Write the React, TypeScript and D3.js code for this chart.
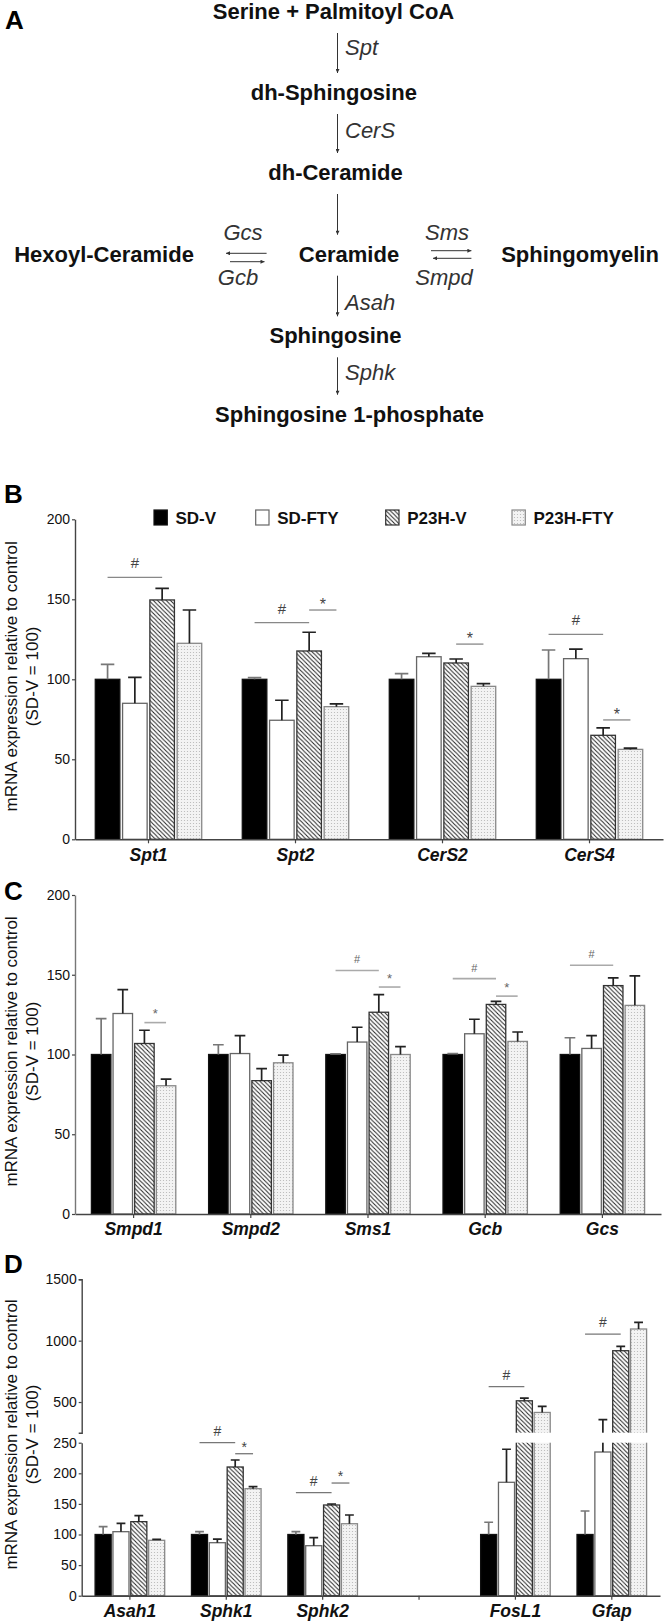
import React, { useRef, useEffect } from "react";
import * as d3 from "d3";

const groups = ["SD-V", "SD-FTY", "P23H-V", "P23H-FTY"];

// panel B: de novo synthesis
const genesB = ["Spt1", "Spt2", "CerS2", "CerS4"];
const meanB = [
  [100, 85, 149.6, 122.5],
  [100, 74.4, 117.7, 82.9],
  [100, 114.1, 110.2, 95.6],
  [100, 112.9, 65, 56.2],
];
const errB = [
  [9.3, 16.2, 7.2, 20.8],
  [1, 12.5, 11.7, 1.7],
  [3.5, 2.1, 2.5, 1.7],
  [18.3, 6, 4.6, 0.8],
];
const sigB = [
  { gene: "Spt1", from: 0, to: 2, mark: "#", at: 163.7 },
  { gene: "Spt2", from: 0, to: 2, mark: "#", at: 135.4 },
  { gene: "Spt2", from: 2, to: 3, mark: "*", at: 143.3 },
  { gene: "CerS2", from: 2, to: 3, mark: "*", at: 122 },
  { gene: "CerS4", from: 0, to: 2, mark: "#", at: 128.1 },
  { gene: "CerS4", from: 2, to: 3, mark: "*", at: 74.6 },
];
const ticksB = [0, 50, 100, 150, 200];

// panel C: sphingomyelin / glucosylceramide
const genesC = ["Smpd1", "Smpd2", "Sms1", "Gcb", "Gcs"];
const meanC = [
  [100, 125.7, 106.9, 80.4],
  [100, 100.6, 83.6, 94.8],
  [100, 107.8, 126.5, 100],
  [100, 113, 131.4, 108.2],
  [100, 103.8, 143.2, 130.8],
];
const errC = [
  [22.5, 15, 8.3, 4.1],
  [6.1, 11.2, 7.6, 4.8],
  [0.4, 9.3, 11, 4.9],
  [0.6, 9.1, 1.9, 5.9],
  [10.5, 8, 4.8, 18.5],
];
const sigC = [
  { gene: "Smpd1", from: 2, to: 3, mark: "*", at: 120 },
  { gene: "Sms1", from: 0, to: 2, mark: "#", at: 152.7 },
  { gene: "Sms1", from: 2, to: 3, mark: "*", at: 142.3 },
  { gene: "Gcb", from: 0, to: 2, mark: "#", at: 147.6 },
  { gene: "Gcb", from: 2, to: 3, mark: "*", at: 136.6 },
  { gene: "Gcs", from: 0, to: 2, mark: "#", at: 156 },
];
const ticksC = [0, 50, 100, 150, 200];

// panel D: catabolism + markers (broken axis), " " is the empty slot
const genesD = ["Asah1", "Sphk1", "Sphk2", " ", "FosL1", "Gfap"];
const meanD = [
  [100, 104.6, 121, 90.5],
  [100, 86.6, 210.3, 174.9],
  [100, 81.7, 148.2, 117.6],
  null,
  [100, 185.3, 510, 415],
  [100, 234.8, 918, 1095],
];
const errD = [
  [12.8, 13.7, 9.8, 1.5],
  [4.6, 6, 11.4, 3.3],
  [4.6, 13.1, 1.6, 14.3],
  null,
  [20, 54, 21, 49],
  [38.4, 121, 35, 54],
];
const sigD = [
  { gene: "Sphk1", from: 0, to: 2, mark: "#", at: 250 },
  { gene: "Sphk1", from: 2, to: 3, mark: "*", at: 232 },
  { gene: "Sphk2", from: 0, to: 2, mark: "#", at: 168.3 },
  { gene: "Sphk2", from: 2, to: 3, mark: "*", at: 184.1 },
  { gene: "FosL1", from: 0, to: 2, mark: "#", at: 625 },
  { gene: "Gfap", from: 0, to: 2, mark: "#", at: 1054 },
];
const ticksDLow = [0, 50, 100, 150, 200, 250];
const ticksDHigh = [500, 1000, 1500];

// panel A: pathway
const chainNodes = ["Serine + Palmitoyl CoA", "dh-Sphingosine", "dh-Ceramide", "Ceramide", "Sphingosine", "Sphingosine 1-phosphate"];
const chainEnzymes = ["Spt", "CerS", "", "Asah", "Sphk"];

const FONT = "'Liberation Sans', Arial, Helvetica, sans-serif";
const fills = ["#000", "#fff", "url(#hatch)", "url(#dots)"];
const strokes = ["#111", "#666", "#333", "#888"];
const errColors = ["#777", "#222", "#222", "#222"];

const drawPathway = (svg) => {
  const g = svg.append("g").attr("font-family", FONT);
  const nodeX = [333.5, 333.8, 335.5, 349, 335.5, 349.5];
  const nodeY = [19, 100, 180, 261.7, 343.3, 421.7];
  const enzY = [55, 138, 0, 310, 380];
  const arrowX = 337.5;

  chainNodes.forEach((t, i) => {
    g.append("text").attr("x", nodeX[i]).attr("y", nodeY[i]).attr("text-anchor", "middle")
      .attr("font-size", 22).attr("font-weight", "bold").attr("fill", "#111").text(t);
    if (i < chainNodes.length - 1) {
      g.append("line").attr("x1", arrowX).attr("x2", arrowX)
        .attr("y1", nodeY[i] + 14).attr("y2", nodeY[i + 1] - 27)
        .attr("stroke", "#333").attr("stroke-width", 1).attr("marker-end", "url(#arr)");
      if (chainEnzymes[i]) {
        g.append("text").attr("x", 345).attr("y", enzY[i]).attr("font-size", 22)
          .attr("font-style", "italic").attr("fill", "#333").text(chainEnzymes[i]);
      }
    }
  });

  // side branches
  const side = [
    { node: "Hexoyl-Ceramide", nx: 104, top: "Gcs", tx: 243, bot: "Gcb", bx: 238,
      a1: [266.6, 226, 253.3], a2: [230, 264.5, 261.7] },
    { node: "Sphingomyelin", nx: 580, top: "Sms", tx: 447, bot: "Smpd", bx: 444,
      a1: [431, 471.4, 250.7], a2: [471.4, 433, 258.3] },
  ];
  side.forEach(s => {
    g.append("text").attr("x", s.nx).attr("y", 261.7).attr("text-anchor", "middle")
      .attr("font-size", 22).attr("font-weight", "bold").attr("fill", "#111").text(s.node);
    g.append("text").attr("x", s.tx).attr("y", 240).attr("text-anchor", "middle")
      .attr("font-size", 22).attr("font-style", "italic").attr("fill", "#333").text(s.top);
    g.append("text").attr("x", s.bx).attr("y", 285).attr("text-anchor", "middle")
      .attr("font-size", 22).attr("font-style", "italic").attr("fill", "#333").text(s.bot);
    [s.a1, s.a2].forEach(a => {
      g.append("line").attr("x1", a[0]).attr("x2", a[1]).attr("y1", a[2]).attr("y2", a[2])
        .attr("stroke", "#333").attr("stroke-width", 1).attr("marker-end", "url(#arr)");
    });
  });
};

const styleAxis = (sel) => {
  sel.select(".domain").attr("stroke", "#444").attr("stroke-width", 1.4);
  sel.selectAll(".tick line").attr("stroke", "#444").attr("stroke-width", 1.2);
  sel.selectAll(".tick text").attr("fill", "#111").attr("font-family", FONT);
};

const drawPanel = (svg, opt) => {
  const { genes, mean, err, sig, x, y, sty } = opt;
  const g = svg.append("g");
  const inner = d3.scaleBand().domain(groups).range([0, x.bandwidth()]).paddingInner(0.1);
  const bw = inner.bandwidth();
  const rows = genes.flatMap((gene, i) =>
    mean[i] ? groups.map((grp, j) => ({ gene, grp, j, v: mean[i][j], e: err[i][j] })) : []);
  const cx = (gene, j) => x(gene) + inner(groups[j]) + bw / 2;

  g.selectAll("rect.bar").data(rows).join("rect").attr("class", "bar")
    .attr("x", d => x(d.gene) + inner(d.grp)).attr("width", bw)
    .attr("y", d => y(d.v)).attr("height", d => y(0) - y(d.v))
    .attr("fill", d => fills[d.j]).attr("stroke", d => strokes[d.j]).attr("stroke-width", 1.3);

  const cap = bw * 0.55;
  g.selectAll("path.err").data(rows).join("path").attr("class", "err")
    .attr("d", d => {
      const c = cx(d.gene, d.j), y1 = y(d.v), y2 = y(d.v + d.e);
      return `M${c},${y1}V${y2}M${c - cap / 2},${y2}H${c + cap / 2}`;
    })
    .attr("fill", "none").attr("stroke", d => errColors[d.j]).attr("stroke-width", 1.7);

  if (opt.gap) opt.gap(g);

  sig.forEach(s => {
    const xa = cx(s.gene, s.from), xb = cx(s.gene, s.to), ly = y(s.at);
    g.append("line").attr("x1", xa).attr("x2", xb).attr("y1", ly).attr("y2", ly)
      .attr("stroke", sty.line).attr("stroke-width", sty.lw);
    const isHash = s.mark === "#";
    g.append("text").attr("x", (xa + xb) / 2).attr("y", ly - (isHash ? sty.hashOff : sty.starOff))
      .attr("text-anchor", "middle").attr("font-family", FONT)
      .attr("font-size", isHash ? sty.hash : sty.star).attr("fill", sty.color).text(s.mark);
  });

  const xa = g.append("g").attr("transform", `translate(0,${y(0)})`)
    .call(d3.axisBottom(x).tickSize(4).tickSizeOuter(0).tickPadding(5));
  styleAxis(xa);
  xa.selectAll(".tick text").attr("font-size", 17.5).attr("font-weight", "bold").attr("font-style", "italic");

  // y label
  const [top, bot] = opt.yExtent;
  const mid = (top + bot) / 2 - 3;
  const lab = g.append("g").attr("transform", "rotate(-90)").attr("font-family", FONT)
    .attr("font-size", 17).attr("fill", "#111").attr("text-anchor", "middle");
  lab.append("text").attr("x", -mid).attr("y", 16.5).text("mRNA expression relative to control");
  lab.append("text").attr("x", -mid).attr("y", 38).text("(SD-V = 100)");

  g.append("text").attr("x", 4).attr("y", opt.letterY).attr("font-family", FONT)
    .attr("font-size", 26).attr("font-weight", "bold").attr("fill", "#000").text(opt.letter);
  return g;
};

const yAxis = (svg, scale, ticks, at, outer) => {
  const ax = svg.append("g").attr("transform", `translate(${at},0)`)
    .call(d3.axisLeft(scale).tickValues(ticks).tickFormat(d3.format("d"))
      .tickSize(3).tickPadding(2).tickSizeOuter(outer));
  styleAxis(ax);
  ax.selectAll(".tick text").attr("font-size", 14);
  return ax;
};

const App = () => {
  const ref = useRef(null);

  const DrawFigure = (elt) => {
    d3.select(elt).select("svg").remove();
    const svg = d3.select(elt).append("svg")
      .attr("width", 667).attr("height", 1622)
      .style("display", "block").style("background", "#fff");

    const defs = svg.append("defs");
    const hatch = defs.append("pattern").attr("id", "hatch").attr("patternUnits", "userSpaceOnUse")
      .attr("width", 4.3).attr("height", 4.3);
    hatch.append("rect").attr("width", 4.3).attr("height", 4.3).attr("fill", "#fff");
    hatch.append("path").attr("d", "M-1,-1L5.3,5.3M-1,3.3L1,5.3M3.3,-1L5.3,1")
      .attr("stroke", "#222").attr("stroke-width", 1);
    const dots = defs.append("pattern").attr("id", "dots").attr("patternUnits", "userSpaceOnUse")
      .attr("width", 3).attr("height", 3);
    dots.append("rect").attr("width", 3).attr("height", 3).attr("fill", "#f3f3f3");
    dots.append("circle").attr("cx", 1.5).attr("cy", 1.5).attr("r", 0.6).attr("fill", "#b5b5b5");
    defs.append("marker").attr("id", "arr").attr("viewBox", "0 0 6 6").attr("refX", 6).attr("refY", 3)
      .attr("markerUnits", "userSpaceOnUse").attr("markerWidth", 5).attr("markerHeight", 4)
      .attr("orient", "auto")
      .append("path").attr("d", "M0,0L6,3L0,6Z").attr("fill", "#333");

    // A
    svg.append("text").attr("x", 5).attr("y", 28.5).attr("font-family", FONT)
      .attr("font-size", 26).attr("font-weight", "bold").text("A");
    drawPathway(svg);

    // B
    const xB = d3.scaleBand().domain(genesB).range([75, 663]).paddingInner(0.276).paddingOuter(0.138);
    const yB = d3.scaleLinear().domain([0, 200]).range([839.3, 519.3]);
    drawPanel(svg, {
      genes: genesB, mean: meanB, err: errB, sig: sigB, x: xB, y: yB,
      sty: { line: "#888", lw: 1.3, color: "#444", hash: 15, star: 16, hashOff: 9, starOff: 0 },
      yExtent: [519.3, 839.3], letter: "B", letterY: 503,
    });
    yAxis(svg, yB, ticksB, 75, 0);

    // legend
    const legX = [154, 255.7, 385.7, 512];
    const leg = svg.append("g").attr("font-family", FONT);
    groups.forEach((grp, j) => {
      leg.append("rect").attr("x", legX[j]).attr("y", 510).attr("width", 13.3).attr("height", 15)
        .attr("fill", fills[j]).attr("stroke", strokes[j]).attr("stroke-width", 1.2);
      leg.append("text").attr("x", legX[j] + 21.5).attr("y", 523.5).attr("font-size", 17)
        .attr("font-weight", "bold").attr("fill", "#111").text(grp);
    });

    // C
    const xC = d3.scaleBand().domain(genesC).range([75, 661]).paddingInner(0.28).paddingOuter(0.14);
    const yC = d3.scaleLinear().domain([0, 200]).range([1214, 895]);
    drawPanel(svg, {
      genes: genesC, mean: meanC, err: errC, sig: sigC, x: xC, y: yC,
      sty: { line: "#aaa", lw: 1.6, color: "#666", hash: 11, star: 13, hashOff: 7, starOff: 4.5 },
      yExtent: [895, 1214], letter: "C", letterY: 900,
    });
    const ayC = yAxis(svg, yC, ticksC, 75, 0);
    ayC.select(".domain").attr("stroke", "#777");

    // D (broken axis)
    const low = d3.scaleLinear().domain([0, 250]).range([1595.7, 1442.7]);
    const high = d3.scaleLinear().domain([250, 1500]).range([1432.7, 1279.3]);
    const yD = (v) => (v <= 250 ? low(v) : high(v));
    const axD = 81.7;
    const xD = d3.scaleBand().domain(genesD).range([axD, 660]).paddingInner(0.278).paddingOuter(0.139);
    drawPanel(svg, {
      genes: genesD, mean: meanD, err: errD, sig: sigD, x: xD, y: yD,
      sty: { line: "#777", lw: 1.3, color: "#444", hash: 14, star: 14, hashOff: 6.6, starOff: 1.7 },
      yExtent: [1279.3, 1595.7], letter: "D", letterY: 1273,
      gap: (g) => g.append("rect").attr("x", axD + 1.5).attr("y", high(250))
        .attr("width", 667 - axD).attr("height", low(250) - high(250)).attr("fill", "#fff"),
    });
    yAxis(svg, low, ticksDLow, axD, 0);
    yAxis(svg, high, ticksDHigh, axD, 3);
  };

  useEffect(() => {
    document.body.style.margin = "0";
    if (ref.current) DrawFigure(ref.current);
  }, []);

  return <div className="FigureContainer" ref={ref}></div>;
};

export default App;
